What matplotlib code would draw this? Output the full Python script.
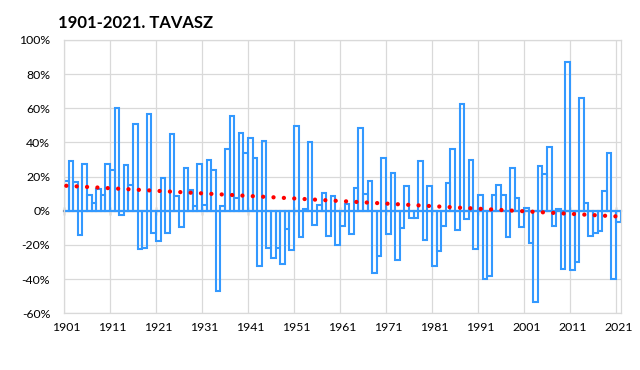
import numpy as np
import matplotlib.pyplot as plt
from matplotlib.ticker import FuncFormatter

plt.rcParams['font.family'] = ['Lato', 'DejaVu Sans']

# spring precipitation anomaly (%), 1901-2021
years = np.arange(1901, 2022)
anomaly = [
    17.2, 29.2, 16.8, -14.1, 27.3, 9.1, 4.6, 12.8, 9.1, 27.3,
    24.0, 60.2, -2.7, 26.9, 14.9, 50.7, -22.4, -21.9, 56.9, -12.8,
    -17.6, 19.0, -13.0, 45.0, 8.5, -9.5, 25.0, 12.0, 3.0, 27.5,
    3.3, 30.0, 24.0, -47.0, 2.7, 36.0, 55.7, 7.5, 45.6, 34.0,
    42.7, 30.8, -32.5, 40.8, -21.5, -27.9, -21.9, -31.0, -10.4, -23.0,
    49.5, -15.3, 0.8, 40.4, -8.3, 3.7, 10.3, -15.0, 8.5, -20.0,
    -9.0, 4.0, -13.3, 13.3, 48.7, 9.9, 17.6, -36.6, -26.7, 30.8,
    -13.3, 22.4, -28.6, -9.9, 14.7, -4.0, -4.4, 29.2, -17.2, 14.3,
    -32.5, -23.4, -9.0, 16.2, 36.0, -11.2, 62.3, -5.0, 29.8, -22.4,
    9.1, -39.8, -38.3, 9.1, 14.9, 9.5, -15.1, 25.0, 7.5, -9.3,
    1.7, -19.1, -53.4, 26.3, 21.7, 37.1, -9.0, 0.8, -34.0, 87.2,
    -34.4, -30.2, 66.2, 4.3, -14.7, -12.8, -11.8, 11.4, 33.7, -39.8, -6.6,
]
label_years = np.arange(1901, 2022, 10)
title = '1901-2021. TAVASZ'

anomaly = np.array(anomaly)

# linear trend as in the spreadsheet
coef = np.polyfit(years, anomaly, 1)
trend = np.polyval(coef, years)

fig = plt.figure(figsize=(6.4, 3.7), dpi=100)
ax = fig.add_axes([0.1, 0.1532, 0.8703, 0.7387])

ax.bar(years, anomaly, width=1.0, facecolor='none', edgecolor='#3399ff',
       linewidth=1.5, zorder=2)
ax.plot(years, trend, color='#ff0000', linewidth=3.1,
        linestyle=(0, (0.01, 2.4)), dash_capstyle='round', zorder=4)

ax.set_xlim(1900.5, 2021.6)
ax.set_ylim(-60, 100)
ax.set_yticks(np.arange(-60, 101, 20))
ax.yaxis.set_major_formatter(FuncFormatter(lambda v, p: '%d%%' % v))

ax.set_xticks(label_years)
ax.set_xticklabels([str(y) for y in label_years])
ax.set_xticks(label_years - 0.5, minor=True)

ax.grid(axis='y', color='#d9d9d9', linewidth=0.9, zorder=0)
ax.grid(axis='x', which='minor', color='#d9d9d9', linewidth=0.9, zorder=0)
ax.set_axisbelow(True)

for s in ax.spines.values():
    s.set_color('#d9d9d9')
    s.set_linewidth(0.9)

ax.tick_params(axis='both', which='both', length=0, labelsize=8.8,
               colors='#000000')
ax.tick_params(axis='y', pad=10)
ax.tick_params(axis='x', pad=6)

# category axis drawn along zero
zero_ax = ax.secondary_xaxis(0, transform=ax.transData)
zero_ax.set_xticks(label_years - 0.5)
zero_ax.set_xticklabels([])
zero_ax.tick_params(direction='inout', length=6, width=1, color='#8c8c8c')
zero_ax.spines['bottom'].set_color('#8196b2')
zero_ax.spines['bottom'].set_linewidth(1.6)
zero_ax.spines['bottom'].set_zorder(3)

fig.text(58 / 640, 1 - 27.5 / 370, title, fontsize=12, fontweight='bold',
         ha='left', va='baseline')

fig.savefig('out.png', dpi=100)
